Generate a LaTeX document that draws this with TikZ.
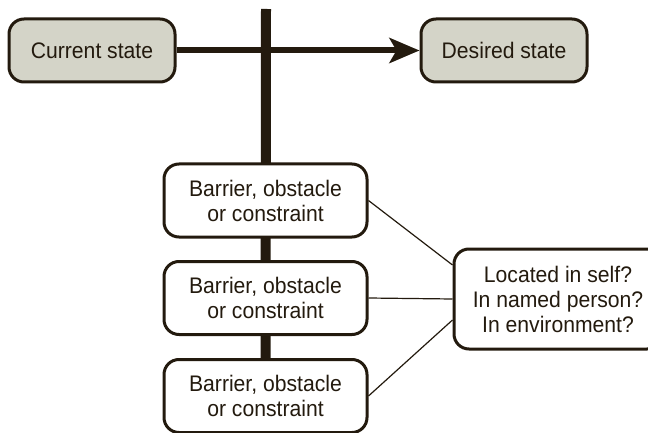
\documentclass[tikz,border=0pt]{standalone}
\usepackage{fontspec}
\setmainfont{Liberation Sans}
\newfontfamily\labelfont[FakeStretch=0.94]{Liberation Sans}
\usetikzlibrary{arrows.meta,backgrounds}
\definecolor{ink}{HTML}{231A0E}
\definecolor{statefill}{HTML}{D4D4C8}
\tikzset{
  box/.style={draw=ink, line width=3pt, rounded corners=15pt, align=center,
    text=ink, font=\labelfont\fontsize{22.5}{25}\selectfont, inner sep=0pt},
  statebox/.style={box, fill=statefill, minimum width=166pt, minimum height=63pt},
  barrierbox/.style={box, fill=white, minimum width=203pt, minimum height=73pt},
  querybox/.style={box, fill=white, minimum width=208pt, minimum height=100pt},
  mainbar/.style={draw=ink, line width=10pt},
  flow/.style={draw=ink, line width=6pt, -{Stealth[length=30pt,width=25pt,inset=7pt]}},
  link/.style={draw=ink, line width=1.2pt}
}
\begin{document}
\begin{tikzpicture}[x=1pt,y=-1pt]
  \useasboundingbox (0,0) rectangle (648,433);
  \clip (0,0) rectangle (648,433);

  % states
  \node[statebox] (cur) at (92,50.5) {Current state};
  \node[statebox] (des) at (504,50.5) {Desired state};

  % barriers along the path
  \node[barrierbox] (b1) at (265.5,200.5) {Barrier, obstacle\\or constraint};
  \node[barrierbox] (b2) at (265.5,298) {Barrier, obstacle\\or constraint};
  \node[barrierbox] (b3) at (265.5,396) {Barrier, obstacle\\or constraint};

  % where the barrier lies
  \node[querybox] (q) at (558,299) {Located in self?\\In named person?\\In environment?};

  \coordinate (bartop) at (266,9);

  \begin{scope}[on background layer]
    \draw[mainbar] (bartop) -- (b3.center);
  \end{scope}

  \draw[flow] (cur.east) -- (des.west);

  \draw[link] (b1.east) -- ([yshift=34pt]q.west);
  \draw[link] (b2.east) -- ([yshift=0pt]q.west);
  \draw[link] (b3.east) -- ([yshift=-21pt]q.west);
\end{tikzpicture}
\end{document}
